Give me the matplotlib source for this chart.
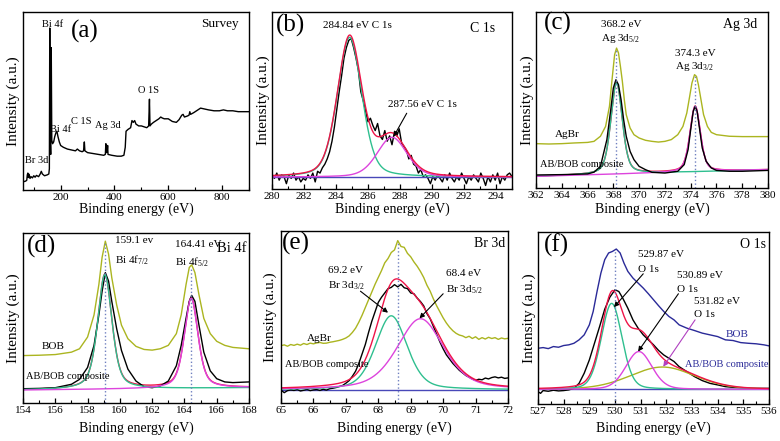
import numpy as np
import matplotlib
matplotlib.use('Agg')
import matplotlib.pyplot as plt
from matplotlib.ticker import MultipleLocator

plt.rcParams['font.family'] = ['Liberation Serif', 'DejaVu Serif']
plt.rcParams['mathtext.fontset'] = 'custom'
plt.rcParams['mathtext.rm'] = 'Liberation Serif'
plt.rcParams['mathtext.it'] = 'Liberation Serif:italic'

# ---------------- data (intensity in % of axis height) ----------------
# (a) survey
survey_be = [60, 65, 70, 74, 76, 78, 80, 83, 86, 90, 95, 100, 105, 110, 118, 124, 128, 132, 140, 150,
             156, 158, 159.5, 161, 163, 165, 167, 170, 174, 178, 182, 186, 190, 195, 200, 210, 225, 240,
             255, 262, 270, 280, 285, 288, 290, 300, 320, 340, 360, 366, 368, 370, 373, 374.5, 376, 390,
             410, 425, 435, 440, 443, 450, 460, 465, 470, 475, 480, 490, 500, 510, 520, 527, 530, 532,
             537, 545, 555, 565, 572, 577, 585, 600, 615, 630, 640, 650, 655, 660, 670, 677, 680, 683,
             695, 710, 720, 735, 750, 770, 790, 805, 820, 840, 860, 880, 900]
survey_int = [4.5, 4.8, 5.0, 5.5, 8.5, 9.5, 7.0, 8.8, 6.5, 7.5, 6.8, 8.0, 7.2, 8.2, 7.5, 9.0, 10.5, 9.0, 8.0, 8.5,
              9.0, 12, 91, 30, 20, 80, 28, 26, 27, 30, 32, 33, 30, 27, 25, 24, 23, 22.5,
              22, 23, 22, 21.5, 22, 27, 22, 21, 20.5, 20, 19.5, 20, 26, 21, 22, 25, 20, 19.5,
              19, 19, 19.5, 24, 33, 34, 35, 39, 38, 39, 37, 36, 36, 35.5, 35, 36, 51, 36,
              37, 38, 39, 40, 41, 40.5, 40, 40, 38.5, 38, 39.5, 42, 42.5, 41, 41.5, 42, 44, 42.5,
              43.5, 45, 46, 45.5, 45, 44.5, 44.5, 45, 44.5, 44.5, 44, 44, 44]

# (b) C 1s
c1s_be_range = [280.0, 295.0]
c1s_raw = [8, 6, 9, 5, 8, 7, 3, 8, 6, 9, 5, 7, 4, 6, 5, 8, 6, 9, 4, 10,
           9, 12, 14, 17, 21, 27, 35, 45, 55, 64, 74, 80, 84, 85, 80, 74, 67, 55, 50, 44,
           38, 40, 36, 33, 37, 30, 28, 33, 27, 30, 25, 32, 30, 34, 26, 24, 22, 17, 19, 14,
           13, 9, 11, 7, 8, 6, 3, 7, 5, 8, 6, 4, 8, 5, 9, 6, 4, 7, 5, 9,
           6, 3, 7, 5, 8, 6, 4, 9, 6, 2, 7, 4, 8, 5, 9, 3, 7, 5, 8, 9, 7]
c1s_bg = 6.7
c1s_centers = [284.85, 287.5]
c1s_heights = [79.0, 22.5]
c1s_fwhm = [1.8, 2.2]
c1s_eta = [0.3, 0.3]

# (c) Ag 3d
ag_agbr_be = [362, 363, 364, 365, 366, 366.5, 367, 367.4, 367.7, 367.9, 368.1, 368.25, 368.4, 368.55,
              368.7, 368.85, 369.0, 369.3, 369.6, 370, 370.5, 371, 371.5, 372, 372.5, 373, 373.4,
              373.7, 373.9, 374.1, 374.3, 374.45, 374.6, 374.8, 375.0, 375.3, 375.6, 376, 377, 378, 380]
ag_agbr_int = [25.2, 25.0, 25.2, 25.6, 25.9, 26.5, 29.4, 35.0, 46.4, 61.6, 75.8, 79.5, 76.7, 69.1,
               60.6, 50.2, 41.7, 34.1, 30.3, 28.4, 27.1, 26.5, 26.1, 26.5, 27.5, 30.3, 35.0,
               42.6, 51.1, 59.7, 64.4, 63.4, 58.7, 50.2, 41.7, 35.0, 31.6, 30.3, 29.4, 29.2, 29.2]
ag_comp_be = [362, 364, 366, 366.5, 367, 367.5, 367.8, 368.0, 368.2, 368.4, 368.6, 368.8, 369.0, 369.3,
              369.6, 370, 370.5, 371, 372, 373, 373.5, 373.8, 374.0, 374.2, 374.35, 374.5, 374.7,
              374.9, 375.2, 375.6, 376, 377, 378, 380]
ag_comp_int = [7.4, 7.6, 8.0, 9.0, 12.3, 27.5, 44.5, 56.8, 61.5, 58.7, 50.2, 38.8, 29.4, 20.8,
               16.1, 12.3, 10.4, 8.9, 8.5, 9.5, 13.3, 21.8, 33.1, 43.6, 46.4, 43.6, 33.1,
               22.7, 15.2, 11.4, 10.0, 9.5, 9.5, 10.0]
ag_bg_ends = [6.6, 10.4]
ag_centers = [368.25, 374.35]
ag_heights = [51.8, 37.2]
ag_fwhm = [1.05, 0.95]
ag_eta = [0.4, 0.4]

# (d) Bi 4f
bi_bob_be = [154, 155, 156, 157, 157.5, 158, 158.4, 158.7, 158.9, 159.1, 159.3, 159.5, 159.8, 160.1,
             160.5, 161, 161.5, 162, 162.5, 163, 163.5, 163.8, 164.1, 164.3, 164.45, 164.65, 164.9,
             165.2, 165.6, 166, 166.5, 167, 168]
bi_bob_int = [27.9, 28.1, 28.5, 29.9, 31.9, 38.8, 51.8, 69.7, 85.7, 95.2, 87.6, 73.7, 57.8, 45.8,
              37.8, 33.3, 31.5, 31.1, 31.9, 33.9, 40.8, 51.8, 69.7, 79.7, 81.3, 76.7, 63.7,
              49.8, 40.8, 36.3, 33.9, 32.7, 31.9]
bi_comp_int = [8.4, 8.6, 9.0, 11.0, 13.9, 20.9, 33.9, 51.8, 65.7, 76.7, 71.7, 59.8, 43.8, 30.9,
               19.9, 12.9, 9.6, 9.0, 10.0, 12.9, 21.9, 33.9, 49.8, 59.8, 63.3, 59.8, 45.8,
               29.9, 18.9, 14.3, 12.4, 12.0, 12.4]
bi_bg_ends = [7.6, 9.0]
bi_centers = [159.07, 164.42]
bi_heights = [67.5, 53.0]
bi_fwhm = [1.05, 1.0]
bi_eta = [0.5, 0.5]

# (e) Br 3d
br_be_range = [65.0, 72.0]
br_agbr_int = [33.3, 33.8, 33.0, 34.0, 33.5, 34.2, 33.6, 34.6, 34.0, 34.8, 34.4, 34.9, 35.2, 34.7, 34.8,
               35.3, 35.6, 36.0, 36.4, 37.0, 37.8, 39.0, 41.0, 43.5, 47.0, 51.0, 55.5, 60.0, 64.5, 69.0,
               73.0, 77.0, 81.5, 84.0, 87.5, 89.0, 94.4, 91.0, 90.5, 87.0, 85.0, 82.0, 79.5, 76.5, 73.0,
               68.5, 65.0, 60.5, 56.5, 53.0, 49.5, 46.5, 44.0, 42.0, 40.5, 39.5, 39.0, 38.0, 38.8, 37.5,
               38.5, 37.0, 38.0, 37.2, 38.2, 37.5, 38.0, 37.0, 37.8, 37.3, 37.6]
br_comp_int = [7.5, 6.0, 7.2, 7.6, 7.3, 7.8, 7.0, 7.4, 7.9, 7.2, 7.6, 7.8, 7.3, 8.0, 7.5,
               8.3, 8.6, 9.0, 9.6, 10.2, 11.5, 13.0, 15.5, 18.5, 23.0, 28.5, 34.0, 41.0, 47.5, 53.0,
               58.5, 61.5, 64.0, 66.5, 67.2, 68.8, 67.5, 69.0, 67.0, 66.5, 64.0, 63.5, 61.0, 59.0, 56.5,
               52.0, 49.0, 44.5, 40.0, 35.5, 31.5, 28.0, 25.5, 23.0, 21.0, 19.0, 17.5, 16.0, 15.0, 14.0,
               13.2, 13.8, 13.5, 14.5, 14.0, 14.8, 15.2, 14.6, 15.0, 14.3, 14.6]
br_bg = 7.7
br_centers = [68.4, 69.3]
br_heights = [43.0, 41.3]
br_fwhm = [1.15, 1.7]
br_eta = [0.35, 0.45]

# (f) O 1s
o_bob_be = [527.0, 527.2, 527.4, 527.6, 527.8, 528.0, 528.2, 528.4, 528.6, 528.8, 529.0, 529.15, 529.3,
            529.45, 529.6, 529.75, 529.9, 530.05, 530.2, 530.35, 530.5, 530.7, 530.9, 531.1, 531.3,
            531.5, 531.7, 531.9, 532.1, 532.3, 532.5, 532.8, 533.1, 533.4, 533.7, 534.0, 534.3,
            534.6, 534.9, 535.2, 535.5, 535.8, 536.0]
o_bob_int = [32.4, 32.8, 32.2, 33.4, 33.0, 34.0, 34.4, 35.3, 37.3, 40.2, 46.0, 53.8, 65.4,
             76.1, 83.9, 87.8, 88.7, 90.1, 87.8, 81.9, 77.1, 73.2, 70.3, 67.4, 64.1,
             60.6, 57.1, 53.8, 50.9, 48.9, 46.0, 44.1, 42.7, 41.2, 40.2, 39.2, 37.3,
             36.9, 35.7, 35.3, 35.0, 34.4, 33.8]
o_comp_be = [527.0, 527.1, 527.2, 527.4, 527.6, 527.8, 528.0, 528.2, 528.4, 528.6, 528.8, 529.0, 529.2,
             529.4, 529.6, 529.8, 530.0, 530.15, 530.3, 530.5, 530.7, 530.9, 531.1, 531.3, 531.5,
             531.7, 531.9, 532.1, 532.3, 532.5, 532.8, 533.1, 533.4, 533.7, 534.0, 534.3, 534.6,
             535.0, 535.5, 536.0]
o_comp_int = [7.2, 6.2, 7.8, 7.4, 8.0, 7.6, 7.8, 8.2, 9.1, 12.0, 17.9, 25.6, 35.3,
              45.0, 55.1, 62.1, 66.4, 65.4, 61.6, 55.7, 48.9, 44.1, 40.2, 37.3, 34.4,
              31.1, 28.5, 26.6, 24.7, 21.7, 18.8, 15.9, 13.6, 12.0, 11.1, 10.1, 9.7,
              9.3, 9.1, 9.1]
o_bg = 8.5
o_centers = [529.87, 530.93, 531.85]
o_heights = [50.0, 22.0, 13.0]
o_fwhm = [0.95, 1.2, 3.0]
o_eta = [0.2, 0.2, 0.2]

# ---------------- style ----------------
BLACK = 'black'
GREEN = '#2fbf8f'
MAGENTA = '#dd44dd'
RED = '#ee1448'
BLUE = '#4848b8'
OLIVE = '#abb520'
NAVY = '#2a2a98'
DOT = '#7080c0'
LW = 1.0

W, H = 780, 441
fig = plt.figure(figsize=(7.8, 4.41), dpi=100)
fig.patch.set_facecolor('white')


def pv(x, c, h, w, eta):
    d = (x - c) / w
    return h * (eta / (1 + 4 * d ** 2) + (1 - eta) * np.exp(-4 * np.log(2) * d ** 2))


def make_ax(l, r, t, b, xlim, major, minor, ylab_px, xlab_px):
    ax = fig.add_axes([l / W, 1 - b / H, (r - l) / W, (b - t) / H])
    ax.set_xlim(*xlim)
    ax.set_ylim(0, 100)
    ax.xaxis.set_major_locator(MultipleLocator(major))
    ax.xaxis.set_minor_locator(MultipleLocator(minor))
    ax.tick_params(axis='x', which='both', direction='in', labelsize=8, pad=2.5)
    ax.tick_params(axis='x', which='major', length=3.5, width=0.9)
    ax.tick_params(axis='x', which='minor', length=2, width=0.8)
    ax.tick_params(axis='y', left=False, labelleft=False)
    for s in ax.spines.values():
        s.set_linewidth(1.0)
    ax.set_xlabel('Binding energy (eV)', fontsize=10)
    ax.set_ylabel('Intensity (a.u.)', fontsize=11)
    ax.xaxis.set_label_coords(0.5, (b - xlab_px) / (b - t))
    ax.xaxis.label.set_verticalalignment('center')
    ax.yaxis.set_label_coords((ylab_px - l) / (r - l), 0.5)
    ax.yaxis.label.set_verticalalignment('center')
    return ax


def txt(ax, x, y, s, size=8, ha='left', color='black'):
    ax.text(x, y, s, fontsize=size, ha=ha, va='center', color=color)


def arrow(ax, start, end, color='black'):
    ax.annotate('', xy=end, xytext=start,
                arrowprops=dict(arrowstyle='-|>', color=color, lw=0.8, mutation_scale=7,
                                shrinkA=0, shrinkB=0))


# ---- (a) ----
ax = make_ax(23, 249, 12, 190, (60, 900), 200, 100, 13.5, 209)
ax.plot(survey_be, survey_int, color=BLACK, lw=LW)
txt(ax, 290, 88.8, '(a)', size=18, ha='center')
txt(ax, 863, 93, 'Survey', size=9.5, ha='right')
txt(ax, 132, 93, 'Bi 4f', size=7.5)
txt(ax, 160, 34, 'Bi 4f', size=7.5)
txt(ax, 240, 38.3, 'C 1S', size=7.5)
txt(ax, 327, 36.4, 'Ag 3d', size=7.5)
txt(ax, 489, 55.7, 'O 1S', size=7.5)
txt(ax, 66, 16.3, 'Br 3d', size=7.5)

# ---- (b) ----
ax = make_ax(272, 512, 12, 189, (280, 295), 2, 1, 263, 209)
xb = np.linspace(c1s_be_range[0], c1s_be_range[1], len(c1s_raw))
xf = np.linspace(c1s_be_range[0], c1s_be_range[1], 600)
ax.plot(xb, c1s_raw, color=BLACK, lw=LW)
comps = [pv(xf, c, h, w, e) for c, h, w, e in zip(c1s_centers, c1s_heights, c1s_fwhm, c1s_eta)]
ax.axhline(c1s_bg, color=BLUE, lw=LW)
ax.plot(xf, comps[0] + c1s_bg, color=GREEN, lw=LW)
ax.plot(xf, comps[1] + c1s_bg, color=MAGENTA, lw=LW)
ax.plot(xf, comps[0] + comps[1] + c1s_bg, color=RED, lw=LW)
txt(ax, 281.15, 92.5, '(b)', size=18, ha='center')
txt(ax, 293.95, 90.6, 'C 1s', size=10, ha='right')
txt(ax, 283.2, 92.5, '284.84 eV C 1s')
txt(ax, 287.27, 47.5, '287.56 eV C 1s')
arrow(ax, (288.42, 42.8), (287.6, 29.6))

# ---- (c) ----
ax = make_ax(536, 768, 12, 188, (362, 380), 2, 1, 527.5, 209)
xf = np.linspace(362, 380, 800)
bg = np.interp(xf, [362, 380], ag_bg_ends)
comps = [pv(xf, c, h, w, e) for c, h, w, e in zip(ag_centers, ag_heights, ag_fwhm, ag_eta)]
ax.plot(ag_agbr_be, ag_agbr_int, color=OLIVE, lw=LW)
ax.plot(xf, comps[0] + comps[1] + bg, color=RED, lw=LW)
ax.plot(xf, comps[0] + bg, color=GREEN, lw=LW)
ax.plot(xf, comps[1] + bg, color=MAGENTA, lw=LW)
ax.plot(ag_comp_be, ag_comp_int, color=BLACK, lw=LW)
ax.plot([368.2, 368.2], [0, 79], color=DOT, lw=1.0, ls=':')
ax.plot([374.3, 374.3], [0, 64], color=DOT, lw=1.0, ls=':')
txt(ax, 363.67, 93.7, '(c)', size=18, ha='center')
txt(ax, 379.2, 92.8, 'Ag 3d', size=10, ha='right')
txt(ax, 367.05, 92.8, '368.2 eV')
txt(ax, 367.05, 84.7, 'Ag 3d$_{5/2}$')
txt(ax, 372.8, 76.7, '374.3 eV')
txt(ax, 372.8, 69.1, 'Ag 3d$_{3/2}$')
txt(ax, 363.46, 30.3, 'AgBr')
txt(ax, 362.3, 13.3, 'AB/BOB composite', size=7.5)

# ---- (d) ----
ax = make_ax(23, 249, 233, 403, (154, 168), 2, 1, 13.5, 428)
xf = np.linspace(154, 168, 800)
bg = np.interp(xf, [154, 168], bi_bg_ends)
comps = [pv(xf, c, h, w, e) for c, h, w, e in zip(bi_centers, bi_heights, bi_fwhm, bi_eta)]
ax.plot(bi_bob_be, bi_bob_int, color=OLIVE, lw=LW)
ax.plot(xf, comps[0] + comps[1] + bg, color=RED, lw=LW)
ax.plot(bi_bob_be, bi_comp_int, color=BLACK, lw=LW)
ax.plot(xf, comps[0] + bg, color=GREEN, lw=LW)
ax.plot(xf, comps[1] + bg, color=MAGENTA, lw=LW)
ax.plot([159.1, 159.1], [0, 94], color=DOT, lw=1.0, ls=':')
ax.plot([164.41, 164.41], [0, 80], color=DOT, lw=1.0, ls=':')
txt(ax, 155.17, 92, '(d)', size=18, ha='center')
txt(ax, 159.7, 95.5, '159.1 ev')
txt(ax, 159.7, 84, 'Bi 4f$_{7/2}$')
txt(ax, 163.4, 93, '164.41 eV')
txt(ax, 163.4, 82.7, 'Bi 4f$_{5/2}$')
txt(ax, 167.85, 90.6, 'Bi 4f', size=10.5, ha='right')
txt(ax, 155.17, 33.3, 'BOB')
txt(ax, 154.2, 15.7, 'AB/BOB composite', size=7.5)

# ---- (e) ----
ax = make_ax(281, 508, 231, 403, (65, 72), 1, 0.5, 270, 428)
xb = np.linspace(br_be_range[0], br_be_range[1], len(br_comp_int))
xf = np.linspace(65, 72, 600)
comps = [pv(xf, c, h, w, e) for c, h, w, e in zip(br_centers, br_heights, br_fwhm, br_eta)]
ax.plot(xb, br_agbr_int, color=OLIVE, lw=LW)
ax.axhline(br_bg, color=BLUE, lw=LW)
ax.plot(xb, br_comp_int, color=BLACK, lw=LW)
ax.plot(xf, comps[0] + br_bg, color=GREEN, lw=LW)
ax.plot(xf, comps[1] + br_bg, color=MAGENTA, lw=LW)
ax.plot(xf, comps[0] + comps[1] + br_bg, color=RED, lw=LW)
ax.plot([68.6, 68.6], [0, 94], color=DOT, lw=1.0, ls=':')
txt(ax, 65.47, 92.8, '(e)', size=18, ha='center')
txt(ax, 71.9, 92.8, 'Br 3d', size=10, ha='right')
txt(ax, 66.45, 77, '69.2 eV')
txt(ax, 66.45, 68, 'Br 3d$_{3/2}$')
txt(ax, 70.1, 75, '68.4 eV')
txt(ax, 70.1, 66, 'Br 3d$_{5/2}$')
arrow(ax, (67.45, 65), (68.3, 52.5))
arrow(ax, (70.0, 63.5), (69.27, 49.2))
txt(ax, 65.8, 37.7, 'AgBr')
txt(ax, 65.13, 22.2, 'AB/BOB composite', size=7.5)

# ---- (f) ----
ax = make_ax(538, 769, 232, 404, (527, 536), 1, 0.5, 529, 428)
xf = np.linspace(527, 536, 700)
comps = [pv(xf, c, h, w, e) for c, h, w, e in zip(o_centers, o_heights, o_fwhm, o_eta)]
ax.plot(o_bob_be, o_bob_int, color=NAVY, lw=LW)
ax.axhline(o_bg, color=BLUE, lw=LW)
ax.plot(o_comp_be, o_comp_int, color=BLACK, lw=LW)
ax.plot(xf, comps[2] + o_bg, color=OLIVE, lw=LW)
ax.plot(xf, comps[0] + o_bg, color=GREEN, lw=LW)
ax.plot(xf, comps[1] + o_bg, color=MAGENTA, lw=LW)
ax.plot(xf, comps[0] + comps[1] + comps[2] + o_bg, color=RED, lw=LW)
ax.plot([530.0, 530.0], [0, 89], color=DOT, lw=1.0, ls=':')
txt(ax, 527.72, 92, '(f)', size=18, ha='center')
txt(ax, 535.87, 92.6, 'O 1s', size=10, ha='right')
txt(ax, 530.9, 86.8, '529.87 eV')
txt(ax, 530.9, 78.4, 'O 1s')
txt(ax, 532.4, 74.6, '530.89 eV')
txt(ax, 532.4, 66.4, 'O 1s')
txt(ax, 533.06, 59.6, '531.82 eV')
txt(ax, 533.06, 51.8, 'O 1s')
arrow(ax, (531.1, 75.7), (529.96, 56.3))
arrow(ax, (532.47, 64.1), (530.9, 30.5))
arrow(ax, (533.12, 48.9), (531.88, 21.7), color='#b040c0')
txt(ax, 534.3, 40.2, 'BOB', color=NAVY)
txt(ax, 532.73, 22.7, 'AB/BOB composite', size=7.5, color=NAVY)

fig.savefig('out.png', dpi=100, facecolor='white')
